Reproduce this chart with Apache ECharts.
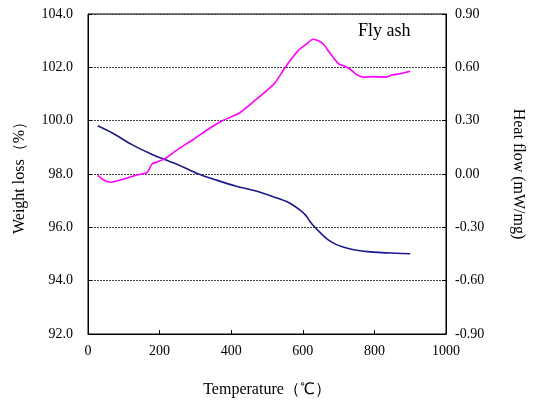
<!DOCTYPE html>
<html>
<head>
<meta charset="utf-8">
<script src="https://cdn.jsdelivr.net/npm/echarts@6/dist/echarts.min.js"></script>
<style>html,body{margin:0;padding:0;background:#fff}#c{width:534px;height:403px}</style>
</head>
<body>
<div id="c"></div>
<script>
const xTicks = [0, 200, 400, 600, 800, 1000];
const weightTicks = [92.0, 94.0, 96.0, 98.0, 100.0, 102.0, 104.0];
const heatTicks = [-0.90, -0.60, -0.30, 0.00, 0.30, 0.60, 0.90];

const weightTemp = [27, 68, 123, 173, 214, 250, 305, 359, 414, 469, 523, 560, 596, 610, 620, 633, 650, 669, 690, 710, 730, 751, 780, 820, 860, 900];
const weightLoss = [99.81, 99.54, 99.10, 98.77, 98.54, 98.36, 98.02, 97.77, 97.54, 97.36, 97.12, 96.93, 96.61, 96.42, 96.22, 96.01, 95.78, 95.55, 95.38, 95.27, 95.20, 95.14, 95.09, 95.05, 95.03, 95.01];

const heatTemp = [27, 45, 64, 96, 132, 164, 172, 179, 196, 214, 250, 296, 341, 378, 423, 469, 500, 523, 551, 587, 610, 628, 645, 660, 672, 683, 701, 719, 735, 751, 769, 796, 833, 851, 875, 900];
const heatFlow = [-0.008, -0.035, -0.046, -0.031, -0.008, 0.007, 0.03, 0.057, 0.070, 0.085, 0.137, 0.197, 0.259, 0.302, 0.343, 0.418, 0.47, 0.515, 0.60, 0.694, 0.73, 0.758, 0.748, 0.726, 0.69, 0.661, 0.618, 0.605, 0.585, 0.558, 0.545, 0.548, 0.545, 0.558, 0.565, 0.578];

const font = 'Liberation Serif, Times New Roman, serif';
const chart = echarts.init(document.getElementById('c'), null, {renderer: 'canvas'});
chart.setOption({
  animation: false,
  backgroundColor: '#fff',
  grid: {left: 88, right: 79, top: 14, bottom: 68, show: true, borderColor: '#000', borderWidth: 1, containLabel: false},
  xAxis: {
    type: 'value', min: xTicks[0], max: xTicks[xTicks.length - 1], interval: xTicks[1] - xTicks[0],
    name: 'Temperature（℃）', nameLocation: 'middle', nameGap: 48,
    nameTextStyle: {fontFamily: font, fontSize: 16, color: '#000'},
    axisLine: {show: true, onZero: false, lineStyle: {color: '#000', width: 1}},
    axisTick: {show: true, inside: true, length: 4, lineStyle: {color: '#000'}},
    axisLabel: {fontFamily: font, fontSize: 14, color: '#000', margin: 10, formatter: v => String(v)},
    splitLine: {show: false}
  },
  yAxis: [{
    type: 'value', min: weightTicks[0], max: weightTicks[weightTicks.length - 1], interval: 2,
    name: 'Weight loss（%）', nameLocation: 'middle', nameGap: 60, nameRotate: 90,
    nameTextStyle: {fontFamily: font, fontSize: 16, color: '#000'},
    axisLine: {show: true, onZero: false, lineStyle: {color: '#000', width: 1}},
    axisTick: {show: true, inside: true, length: 4, lineStyle: {color: '#000'}},
    axisLabel: {fontFamily: font, fontSize: 14, color: '#000', margin: 15, formatter: v => v.toFixed(1)},
    splitLine: {show: true, lineStyle: {color: '#444', type: [2, 1], width: 1}}
  }, {
    type: 'value', min: heatTicks[0], max: heatTicks[heatTicks.length - 1], interval: 0.3,
    position: 'right',
    name: 'Heat flow (mW/mg)', nameLocation: 'middle', nameGap: 64, nameRotate: -90,
    nameTextStyle: {fontFamily: font, fontSize: 16, color: '#000'},
    axisLine: {show: true, onZero: false, lineStyle: {color: '#000', width: 1}},
    axisTick: {show: true, inside: true, length: 4, lineStyle: {color: '#000'}},
    axisLabel: {fontFamily: font, fontSize: 14, color: '#000', margin: 9, formatter: v => (Math.abs(v) < 1e-9 ? 0 : v).toFixed(2)},
    splitLine: {show: false}
  }],
  graphic: [{type: 'text', left: 358, top: 22, style: {text: 'Fly ash', font: '18px ' + font, fill: '#000'}}],
  series: [{
    type: 'line', yAxisIndex: 0, showSymbol: false, smooth: 0.3,
    data: weightTemp.map((t, i) => [t, weightLoss[i]]),
    lineStyle: {color: '#1a1a8a', width: 1.6}, itemStyle: {color: '#1a1a8a'}
  }, {
    type: 'line', yAxisIndex: 1, showSymbol: false, smooth: 0.2,
    data: heatTemp.map((t, i) => [t, heatFlow[i]]),
    lineStyle: {color: '#ff00ff', width: 1.6}, itemStyle: {color: '#ff00ff'}
  }]
});
</script>
</body>
</html>
